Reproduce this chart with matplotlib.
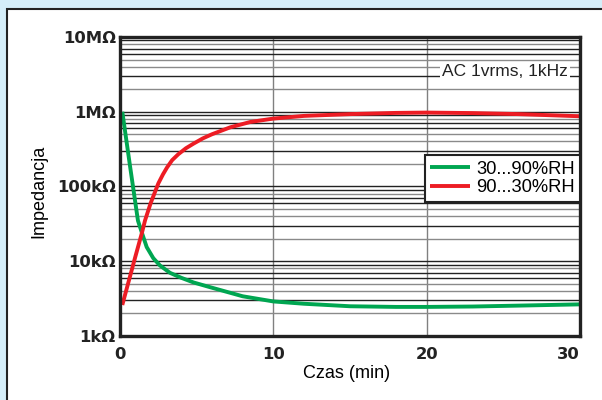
import numpy as np
import matplotlib
matplotlib.use("Agg")
import matplotlib.pyplot as plt
from matplotlib.patches import Rectangle
from matplotlib.ticker import LogLocator, FixedLocator, NullFormatter

# time (min) and impedance (kOhm)
t_up = [0.15, 0.65, 1.17, 1.43, 1.74, 2.17, 2.6, 3.26, 4.0, 4.8, 5.87, 8.0,
        10.0, 12.0, 15.0, 18.0, 20.0, 23.0, 26.0, 30.0]
z_up = [1000, 190, 35, 24, 15.5, 11, 8.8, 7.0, 6.0, 5.2, 4.5, 3.4,
        2.9, 2.7, 2.5, 2.45, 2.45, 2.48, 2.55, 2.65]

t_down = [0.15, 0.5, 1.0, 1.43, 1.63, 2.0, 2.5, 2.8, 3.07, 3.4, 3.8, 4.3,
          4.8, 5.4, 6.0, 7.2, 8.5, 10.0, 12.0, 15.0, 18.0, 20.0, 23.0,
          26.0, 30.0]
z_down = [2.6, 4.8, 11.5, 24, 35, 60, 110, 145, 180, 225, 270, 325,
          375, 440, 500, 620, 730, 810, 880, 930, 965, 975, 960,
          930, 870]

labels = ["30...90%RH", "90...30%RH"]
x_ticks = [0, 10, 20, 30]
y_ticks = [1, 10, 100, 1000, 10000]
y_tick_labels = ["1k\u03a9", "10k\u03a9", "100k\u03a9", "1M\u03a9", "10M\u03a9"]
note = "AC 1vrms, 1kHz"

GREEN = "#00a651"
RED = "#ed1c24"

fig = plt.figure(figsize=(6.02, 4.0), dpi=100)
fig.patch.set_facecolor("#d5eef9")

# white panel with a dark border behind the chart
bg = fig.add_axes([0, 0, 1, 1], zorder=-1)
bg.set_xlim(0, 602)
bg.set_ylim(400, 0)
bg.axis("off")
bg.add_patch(Rectangle((7, 9), 620, 420, facecolor="white",
                       edgecolor="#222222", linewidth=1.5))

ax = fig.add_axes([120 / 602, 1 - 336 / 400, 460 / 602, 299 / 400], zorder=1)
ax.set_facecolor("white")

ax.plot(t_up, z_up, color=GREEN, lw=2.8, label=labels[0], zorder=4,
        solid_capstyle="butt", solid_joinstyle="round")
ax.plot(t_down, z_down, color=RED, lw=2.8, label=labels[1], zorder=4,
        solid_capstyle="butt", solid_joinstyle="round")

ax.set_yscale("log")
ax.set_xlim(0, 30)
ax.set_ylim(1, 10000)

ax.xaxis.set_major_locator(FixedLocator(x_ticks))
ax.set_yticks(y_ticks)
ax.set_yticklabels(y_tick_labels)
ax.yaxis.set_minor_locator(LogLocator(base=10, subs=np.arange(2, 10), numticks=20))
ax.yaxis.set_minor_formatter(NullFormatter())

ax.tick_params(axis="both", which="both", length=0)
ax.tick_params(axis="y", pad=3, labelsize=11.8)
ax.tick_params(axis="x", pad=8, labelsize=11.8)
for lab in ax.get_xticklabels() + ax.get_yticklabels():
    lab.set_fontweight("bold")
    lab.set_family("DejaVu Sans")
    lab.set_color("#222222")
ax.get_xticklabels()[-1].set_ha("right")

# grid: horizontal black/gray mix, vertical gray
ax.grid(True, axis="y", which="major", color="#222222", lw=1.0)
ax.grid(True, axis="y", which="minor", color="#222222", lw=1.0)
ax.grid(True, axis="x", which="major", color="#808080", lw=1.0)
shade = {2: "#8a8a8a", 3: "#222222", 4: "#8a8a8a", 5: "#8a8a8a",
         6: "#222222", 7: "#222222", 8: "#8a8a8a", 9: "#222222"}
for tick in ax.yaxis.get_minor_ticks():
    v = tick.get_loc()
    m = int(round(v / 10 ** np.floor(np.log10(v) + 1e-9)))
    tick.gridline.set_color(shade.get(m, "#222222"))
ax.set_axisbelow(True)

for s in ax.spines.values():
    s.set_linewidth(2.4)
    s.set_color("#222222")
    s.set_zorder(5)

ax.set_xlabel("Czas (min)", family="Liberation Sans", fontsize=13)
ax.xaxis.set_label_coords(0.493, -0.097)
ax.set_ylabel("Impedancja", family="Liberation Sans", fontsize=13)
ax.yaxis.set_label_coords(-0.157, 0.485)

ax.text(0.974, 0.886, note, transform=ax.transAxes, ha="right", va="center",
        family="Liberation Sans", fontsize=12.5, color="#222222", zorder=3,
        bbox=dict(facecolor="white", edgecolor="none", pad=1.5))

leg = ax.legend(loc="upper right", bbox_to_anchor=(1.0, 0.605),
                borderaxespad=0, fancybox=False, framealpha=1,
                edgecolor="#222222", handlelength=2.2, handletextpad=0.3,
                borderpad=0.3, labelspacing=0.1,
                prop={"family": "Liberation Sans", "size": 13.2})
leg.get_frame().set_linewidth(1.5)
leg.set_zorder(6)

fig.savefig("out.png", dpi=100, facecolor=fig.get_facecolor())
